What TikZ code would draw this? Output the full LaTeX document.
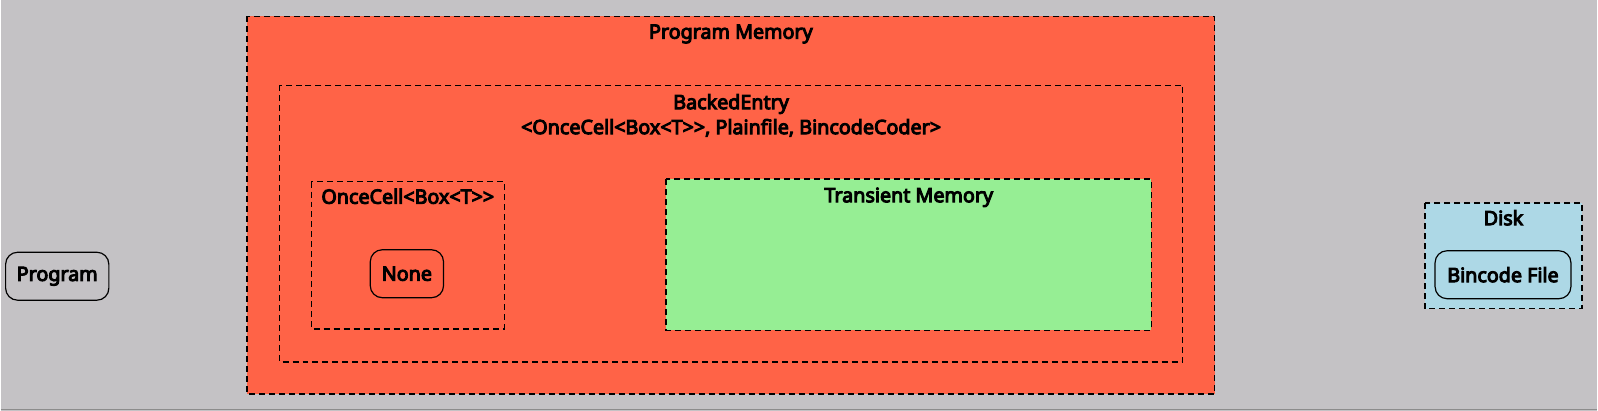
\documentclass[tikz,border=0pt]{standalone}
\usepackage{fontspec}
\setmainfont{Noto Sans}[BoldFont={Noto Sans},BoldFeatures={FakeBold=5}]
\usepackage{tikz}
\definecolor{canvas}{HTML}{C4C2C5}
\definecolor{tomato}{HTML}{FF6347}
\definecolor{lightgreen}{HTML}{96EE94}
\definecolor{lightblue}{HTML}{ADD8E6}

\begin{document}
\begin{tikzpicture}[x=0.75pt,y=-0.75pt,line width=1pt]
    \tikzstyle{region}=[draw=black,dash pattern=on 4.5pt off 3pt,inner sep=0pt]
    \tikzstyle{title}=[font=\fontsize{14.8}{18.75}\selectfont\bfseries,align=center,inner sep=0pt]
    \tikzstyle{item}=[draw=black,rounded corners=9pt,line width=0.9pt,inner sep=0pt,
                      font=\fontsize{14.8}{17}\selectfont\bfseries]

    % Background and page size
    \fill[canvas] (0,0) rectangle (1598,411);
    \draw[black!45,line width=1.2pt] (0,410) -- (1598,410);
    \useasboundingbox (0,0) rectangle (1598,411);

    % Draw the nested memory regions
    \draw[region,fill=tomato] (246.5,16.5) rectangle (1215,394.5);
    \node[title] (pm) at (730.8,34) {Program Memory};

    \draw[region] (279,85.5) rectangle (1183,362.5);
    \node[title] (be) at (731,115.5) {BackedEntry\\<OnceCell<Box<T>{}>, Plainfile, BincodeCoder>};

    \draw[region] (310.7,181.7) rectangle (504,329.3);
    \node[title] (oc) at (407.4,196.5) {OnceCell<Box<T>{}>};

    \draw[region,fill=lightgreen] (666,179.3) rectangle (1151.7,330.7);
    \node[title] (tm) at (908.9,197.5) {Transient Memory};

    % Draw the disk region
    \draw[region,fill=lightblue] (1425.7,203.3) rectangle (1582.7,309);
    \node[title] (disk) at (1504.2,218) {Disk};

    % Draw the plain nodes
    \node[item,minimum width=77.5pt,minimum height=36pt] (program) at (56.5,276.5) {Program};
    \node[item,minimum width=55pt,minimum height=36pt] (none) at (406.5,274) {None};
    \node[item,minimum width=102pt,minimum height=36pt] (bincode) at (1503.7,275) {Bincode File};
\end{tikzpicture}
\end{document}
